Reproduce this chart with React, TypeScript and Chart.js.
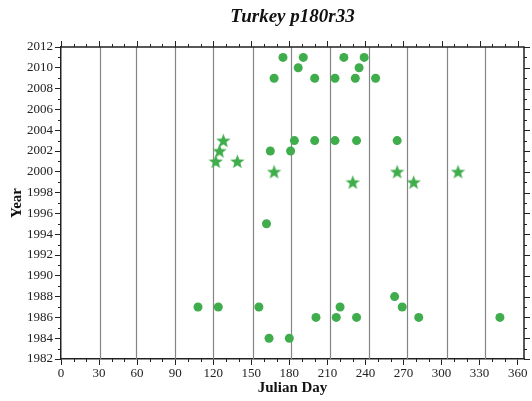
import React, { useEffect, useRef } from 'react';
import { Chart, registerables } from 'chart.js';

Chart.register(...registerables);

const TITLE = 'Turkey p180r33';
const X_TITLE = 'Julian Day';
const Y_TITLE = 'Year';

const X_MIN = 0;
const X_MAX = 365;
const X_STEP = 30;
const X_MINOR = 10;
const Y_MIN = 1982;
const Y_MAX = 2012;
const Y_STEP = 2;
const Y_MINOR = 1;

// day-of-year where each month starts (vertical reference lines)
const MONTH_STARTS = [31, 59, 90, 120, 151, 181, 212, 243, 273, 304, 334];

// filled circles
const circleDays = [
  175, 191, 223, 239,
  187, 235,
  168, 200, 216, 232, 248,
  184, 200, 216, 233, 265,
  165, 181,
  162,
  263,
  108, 124, 156, 220, 269,
  201, 217, 233, 282, 346,
  164, 180,
];
const circleYears = [
  2011, 2011, 2011, 2011,
  2010, 2010,
  2009, 2009, 2009, 2009, 2009,
  2003, 2003, 2003, 2003, 2003,
  2002, 2002,
  1995,
  1988,
  1987, 1987, 1987, 1987, 1987,
  1986, 1986, 1986, 1986, 1986,
  1984, 1984,
];

// stars
const starDays = [128, 125, 122, 139, 168, 230, 265, 278, 313];
const starYears = [2003, 2002, 2001, 2001, 2000, 1999, 2000, 1999, 2000];

const GREEN = '#3fad4c';
const SERIF = '"Liberation Serif", "Times New Roman", serif';
const AXIS_COLOR = '#222222';

function makeStar(size: number, color: string): HTMLCanvasElement {
  const c = document.createElement('canvas');
  c.width = size;
  c.height = size;
  const g = c.getContext('2d')!;
  const cx = size / 2;
  const cy = size / 2 + size * 0.04;
  const outer = size / 2;
  const inner = outer * 0.42;
  g.beginPath();
  for (let i = 0; i < 10; i++) {
    const r = i % 2 === 0 ? outer : inner;
    const a = -Math.PI / 2 + (i * Math.PI) / 5;
    const px = cx + r * Math.cos(a);
    const py = cy + r * Math.sin(a);
    if (i === 0) g.moveTo(px, py);
    else g.lineTo(px, py);
  }
  g.closePath();
  g.fillStyle = color;
  g.fill();
  return c;
}

const framePlugin = {
  id: 'frameDecor',
  beforeDatasetsDraw(chart: any) {
    const { ctx, chartArea, scales } = chart;
    const xs = scales.x;
    ctx.save();
    ctx.strokeStyle = '#858585';
    ctx.lineWidth = 1.2;
    for (const d of MONTH_STARTS) {
      const px = Math.round(xs.getPixelForValue(d)) + 0.5;
      ctx.beginPath();
      ctx.moveTo(px, chartArea.top);
      ctx.lineTo(px, chartArea.bottom);
      ctx.stroke();
    }
    ctx.restore();
  },
  afterDraw(chart: any) {
    const { ctx, chartArea, scales } = chart;
    const xs = scales.x;
    const ys = scales.y;
    const { left, right, top, bottom } = chartArea;
    ctx.save();
    ctx.strokeStyle = AXIS_COLOR;
    ctx.lineWidth = 1;
    const MAJ = 6;
    const MIN = 3;
    // x ticks: minor on bottom, all on top
    for (let v = X_MIN; v <= X_MAX; v += X_MINOR) {
      const px = Math.round(xs.getPixelForValue(v)) + 0.5;
      const isMajor = v % X_STEP === 0;
      ctx.beginPath();
      if (!isMajor) {
        ctx.moveTo(px, bottom);
        ctx.lineTo(px, bottom + MIN);
      }
      ctx.moveTo(px, top);
      ctx.lineTo(px, top - (isMajor ? MAJ : MIN));
      ctx.stroke();
    }
    // y ticks: minor on left, all on right
    for (let v = Y_MIN; v <= Y_MAX; v += Y_MINOR) {
      const py = Math.round(ys.getPixelForValue(v)) + 0.5;
      const isMajor = (v - Y_MIN) % Y_STEP === 0;
      ctx.beginPath();
      if (!isMajor) {
        ctx.moveTo(left, py);
        ctx.lineTo(left - MIN, py);
      }
      ctx.moveTo(right, py);
      ctx.lineTo(right + (isMajor ? MAJ : MIN), py);
      ctx.stroke();
    }
    // top and right border
    ctx.lineWidth = 1.5;
    ctx.beginPath();
    ctx.moveTo(left, top);
    ctx.lineTo(right, top);
    ctx.lineTo(right, bottom);
    ctx.stroke();
    // title
    ctx.fillStyle = '#111111';
    ctx.font = `italic bold 19px ${SERIF}`;
    ctx.textAlign = 'center';
    ctx.textBaseline = 'middle';
    ctx.fillText(TITLE, (left + right) / 2, 17);
    ctx.restore();
  },
};

export default function App() {
  const ref = useRef<HTMLCanvasElement>(null);

  useEffect(() => {
    const canvas = ref.current;
    if (!canvas) return;
    const star = makeStar(15, GREEN);
    const circlePts = circleDays.map((d, i) => ({ x: d, y: circleYears[i] }));
    const starPts = starDays.map((d, i) => ({ x: d, y: starYears[i] }));

    const chart = new Chart(canvas, {
      type: 'scatter',
      data: {
        datasets: [
          {
            label: 'circles',
            data: circlePts,
            pointStyle: 'circle',
            pointRadius: 4.5,
            pointBackgroundColor: GREEN,
            pointBorderColor: GREEN,
            pointBorderWidth: 0,
          },
          {
            label: 'stars',
            data: starPts,
            pointStyle: star as any,
            pointRadius: 7,
            pointBackgroundColor: GREEN,
            pointBorderColor: GREEN,
          },
        ],
      },
      options: {
        animation: false,
        responsive: false,
        maintainAspectRatio: false,
        layout: { padding: { top: 47, right: 5, left: 0, bottom: 0 } },
        plugins: {
          legend: { display: false },
          title: { display: false },
          tooltip: { enabled: false },
        },
        scales: {
          x: {
            type: 'linear',
            position: 'bottom',
            min: X_MIN,
            max: X_MAX,
            afterFit: (s: any) => {
              s.height = 42;
            },
            ticks: {
              stepSize: X_STEP,
              includeBounds: false,
              autoSkip: false,
              maxRotation: 0,
              padding: 1,
              color: '#222222',
              font: { family: SERIF, size: 13 },
              callback: (v: any) => String(v),
            },
            grid: {
              drawOnChartArea: false,
              drawTicks: true,
              tickLength: 6,
              color: AXIS_COLOR,
              lineWidth: 1,
            },
            border: { display: true, color: AXIS_COLOR, width: 1.5 },
            title: {
              display: true,
              text: X_TITLE,
              color: '#111111',
              font: { family: SERIF, size: 15, weight: 'bold' },
              padding: { top: 0, bottom: 4 },
            },
          },
          y: {
            type: 'linear',
            position: 'left',
            min: Y_MIN,
            max: Y_MAX,
            afterFit: (s: any) => {
              s.width = 61;
            },
            ticks: {
              stepSize: Y_STEP,
              includeBounds: false,
              autoSkip: false,
              padding: 2,
              color: '#222222',
              font: { family: SERIF, size: 13 },
              callback: (v: any) => String(v),
            },
            grid: {
              drawOnChartArea: false,
              drawTicks: true,
              tickLength: 6,
              color: AXIS_COLOR,
              lineWidth: 1,
            },
            border: { display: true, color: AXIS_COLOR, width: 1.5 },
            title: {
              display: true,
              text: Y_TITLE,
              color: '#111111',
              font: { family: SERIF, size: 15, weight: 'bold' },
              padding: { top: 8, bottom: 0 },
            },
          },
        },
      },
      plugins: [framePlugin],
    });
    return () => chart.destroy();
  }, []);

  return (
    <div style={{ position: 'absolute', left: 0, top: 0, width: 532, height: 401, background: '#ffffff' }}>
      <canvas ref={ref} width={532} height={401} style={{ display: 'block', width: 532, height: 401 }} />
    </div>
  );
}
